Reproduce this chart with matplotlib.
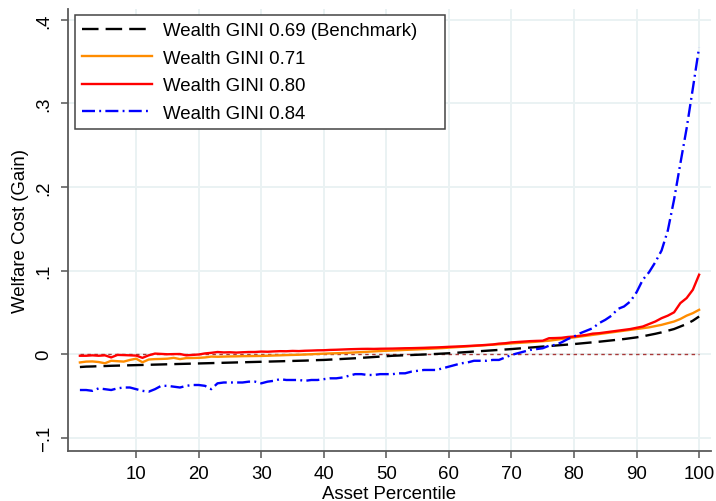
import matplotlib
matplotlib.use("Agg")
import matplotlib.pyplot as plt
import numpy as np

plt.rcParams["font.family"] = ["Liberation Sans", "DejaVu Sans"]

percentile = np.arange(1, 101)

gini_069 = [
    -0.0155, -0.015, -0.0148, -0.0145, -0.0143, -0.014, -0.0138, -0.0136, -0.0134, -0.0132,
    -0.013, -0.0128, -0.0126, -0.0124, -0.0122, -0.012, -0.0118, -0.0116, -0.0114, -0.0112,
    -0.011, -0.0108, -0.0106, -0.0104, -0.0102, -0.010, -0.0098, -0.0096, -0.0094, -0.0092,
    -0.009, -0.0088, -0.0086, -0.0084, -0.0082, -0.008, -0.0078, -0.0075, -0.0072, -0.007,
    -0.0066, -0.0062, -0.0058, -0.0054, -0.005, -0.0045, -0.004, -0.0035, -0.003, -0.0025,
    -0.002, -0.0017, -0.0014, -0.0011, -0.0008, -0.0005, -0.0002, 0.0002, 0.0006, 0.001,
    0.0015, 0.002, 0.0025, 0.003, 0.0035, 0.004, 0.0045, 0.005, 0.0055, 0.006,
    0.0066, 0.0072, 0.0078, 0.0084, 0.009, 0.0096, 0.0102, 0.0108, 0.0114, 0.012,
    0.0127, 0.0134, 0.0141, 0.0148, 0.0156, 0.0164, 0.0172, 0.018, 0.019, 0.020,
    0.0213, 0.0228, 0.0243, 0.026, 0.028, 0.030, 0.033, 0.036, 0.040, 0.045,
]

gini_071 = [
    -0.010, -0.009, -0.0088, -0.0095, -0.011, -0.008, -0.0085, -0.009, -0.007, -0.0055,
    -0.0098, -0.0065, -0.006, -0.0058, -0.0055, -0.0045, -0.006, -0.0048, -0.0047, -0.0045,
    -0.004, -0.003, -0.0032, -0.003, -0.0028, -0.0027, -0.0025, -0.0024, -0.0023, -0.0022,
    -0.002, -0.0017, -0.0015, -0.0012, -0.001, -0.0008, -0.0005, -0.0002, 0.0002, 0.0005,
    0.0008, 0.001, 0.0013, 0.0016, 0.002, 0.0024, 0.0028, 0.0032, 0.0036, 0.004,
    0.0043, 0.0046, 0.005, 0.0053, 0.0056, 0.006, 0.0064, 0.0068, 0.0072, 0.0077,
    0.0082, 0.0087, 0.0092, 0.0097, 0.0102, 0.0107, 0.0112, 0.0117, 0.0122, 0.0128,
    0.0133, 0.0138, 0.0143, 0.0148, 0.0154, 0.016, 0.017, 0.018, 0.019, 0.020,
    0.021, 0.022, 0.023, 0.024, 0.025, 0.026, 0.027, 0.028, 0.029, 0.030,
    0.031, 0.032, 0.0335, 0.035, 0.037, 0.039, 0.042, 0.046, 0.049, 0.053,
]

gini_080 = [
    -0.002, -0.002, -0.0015, -0.002, -0.0015, -0.004, -0.001, -0.0012, -0.0015, -0.0018,
    -0.0045, -0.0015, 0.0006, 0.0002, -0.0002, 0.0, 0.0001, -0.0015, -0.001, -0.0005,
    0.0008, 0.0015, 0.0025, 0.002, 0.0022, 0.0018, 0.0022, 0.0025, 0.0025, 0.003,
    0.0028, 0.0032, 0.0035, 0.0034, 0.0038, 0.0036, 0.004, 0.0042, 0.0045, 0.0046,
    0.005, 0.0052, 0.0055, 0.0058, 0.006, 0.0062, 0.0063, 0.0062, 0.0064, 0.0065,
    0.0066, 0.0068, 0.007, 0.0071, 0.0073, 0.0075, 0.0078, 0.008, 0.0083, 0.0087,
    0.009, 0.0093, 0.0097, 0.0101, 0.0105, 0.011, 0.0115, 0.0125, 0.013, 0.014,
    0.0145, 0.015, 0.0155, 0.0158, 0.016, 0.019, 0.0192, 0.0195, 0.0205, 0.021,
    0.022, 0.023, 0.0245, 0.025, 0.026, 0.027, 0.028, 0.029, 0.030, 0.0315,
    0.033, 0.036, 0.039, 0.043, 0.046, 0.050, 0.061, 0.067, 0.077, 0.095,
]

gini_084 = [
    -0.043, -0.043, -0.044, -0.041, -0.042, -0.043, -0.041, -0.040, -0.040, -0.042,
    -0.044, -0.045, -0.042, -0.038, -0.038, -0.039, -0.040, -0.038, -0.037, -0.037,
    -0.038, -0.042, -0.035, -0.034, -0.034, -0.034, -0.034, -0.033, -0.033, -0.035,
    -0.033, -0.032, -0.030, -0.031, -0.031, -0.031, -0.032, -0.031, -0.031, -0.030,
    -0.029, -0.029, -0.028, -0.026, -0.024, -0.024, -0.025, -0.025, -0.024, -0.024,
    -0.024, -0.023, -0.023, -0.021, -0.020, -0.019, -0.019, -0.019, -0.017, -0.015,
    -0.013, -0.011, -0.010, -0.008, -0.008, -0.008, -0.007, -0.007, -0.004, -0.001,
    0.001, 0.003, 0.005, 0.006, 0.007, 0.010, 0.011, 0.014, 0.018, 0.021,
    0.025, 0.028, 0.031, 0.037, 0.041, 0.046, 0.054, 0.057, 0.063, 0.074,
    0.089, 0.098, 0.110, 0.124, 0.148, 0.185, 0.228, 0.270, 0.318, 0.367,
]

zero_line = np.zeros(len(percentile))

x_ticks = [10, 20, 30, 40, 50, 60, 70, 80, 90, 100]
y_ticks = [-0.1, 0, 0.1, 0.2, 0.3, 0.4]
y_labels = ["\u2212.1", "0", ".1", ".2", ".3", ".4"]

fs = 13.4
fig = plt.figure(figsize=(7.16, 5.02), dpi=100)
ax = fig.add_axes([0.095, 0.0996, 0.898, 0.8804])

ax.plot(percentile, zero_line, color="#a83838", lw=1.0, dashes=(2.5, 2.5))
ax.plot(percentile, gini_069, color="black", lw=1.7, dashes=(7, 3),
        label="Wealth GINI 0.69 (Benchmark)")
ax.plot(percentile, gini_071, color="#ff8c00", lw=1.7, label="Wealth GINI 0.71")
ax.plot(percentile, gini_080, color="#ff0000", lw=1.7, label="Wealth GINI 0.80")
ax.plot(percentile, gini_084, color="#0000ff", lw=1.7, dashes=(5.5, 1.8, 0.8, 1.8),
        label="Wealth GINI 0.84")

ax.set_xlim(-0.9, 101.9)
ax.set_ylim(-0.116, 0.413)
ax.set_xticks(x_ticks)
ax.set_yticks(y_ticks)
ax.set_yticklabels(y_labels, rotation=90, va="center")
ax.tick_params(axis="both", labelsize=fs, length=5, width=1.1, color="#555555",
               direction="out")
ax.tick_params(axis="y", pad=6)
ax.tick_params(axis="x", pad=5)

ax.grid(True, color="#eaf2f3", lw=1.4)
ax.set_axisbelow(True)
for side in ["top", "right"]:
    ax.spines[side].set_visible(False)
for side in ["left", "bottom"]:
    ax.spines[side].set_color("#5a5a5a")
    ax.spines[side].set_linewidth(1.3)

ax.set_xlabel("Asset Percentile", fontsize=fs, labelpad=2)
ax.set_ylabel("Welfare Cost (Gain)", fontsize=fs, labelpad=5)

# legend box stretched to a fixed width, labels left-aligned inside
leg = ax.legend(loc="upper left", bbox_to_anchor=(0.011, 0.732, 0.575, 0.254),
                mode="expand", fontsize=fs, frameon=True, fancybox=False,
                handlelength=3.75, handletextpad=0.6, labelspacing=0.56,
                borderpad=0.38, borderaxespad=0)
leg.get_frame().set_edgecolor("#444444")
leg.get_frame().set_linewidth(1.1)
leg.get_frame().set_alpha(1)

fig.savefig("out.png", dpi=100)
